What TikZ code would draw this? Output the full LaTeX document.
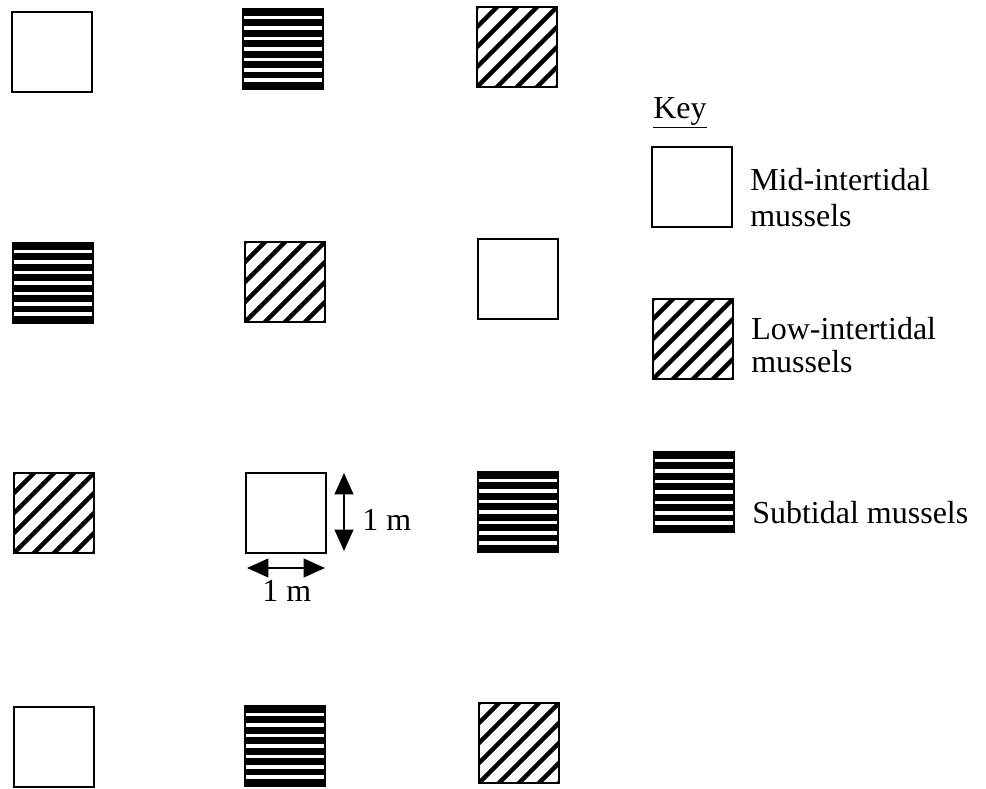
\documentclass[tikz,border=0pt]{standalone}
\usepackage{fontspec}
\setmainfont{Liberation Serif}
\usetikzlibrary{arrows.meta}

\tikzset{
  plot/.style={draw, line width=1.8pt, minimum size=60pt, inner sep=0pt, outer sep=0pt},
  mid/.style={plot},
  sub/.style={plot, path picture={
      \foreach \k in {0,...,7}
        \fill ([yshift=-\k*7.85pt]path picture bounding box.north west) rectangle ++(62pt,-5pt);}},
  low/.style={plot, path picture={
      \foreach \k in {-4,...,4}
        \draw[line width=3.3pt] ([shift={(\k*15pt-40pt,-40pt)}]path picture bounding box.center) -- ++(80pt,80pt);}},
  dimarrow/.style={{Triangle[length=16pt,width=14pt]}-{Triangle[length=16pt,width=14pt]}, line width=1.5pt},
  keytext/.style={anchor=base west, inner sep=0pt},
}

\begin{document}
\begin{tikzpicture}[x=0.75pt, y=-0.75pt, font=\fontsize{24}{28}\selectfont]
  \useasboundingbox (0,0) rectangle (986,789);
  % the twelve plots
  \foreach \x/\y/\t/\n in {52/52/mid/a1, 283/49/sub/a2, 517/47/low/a3,
                          53/283/sub/b1, 285/282/low/b2, 518/279/mid/b3,
                          54/513/low/c1, 286/513/mid/c2, 518/512/sub/c3,
                          54/747/mid/d1, 285/746/sub/d2, 519/743/low/d3}
  {
    \node[\t] (\n) at (\x,\y) {};
  }
  % key
  \node[keytext] (key) at (653,118) {\underline{Key}};
  \node[mid] (kmid) at (692,187) {};
  \node[low] (klow) at (693,339) {};
  \node[sub] (ksub) at (694,492) {};
  \node[keytext] (tmid) at (750,190) {Mid-intertidal};
  \node[keytext] (tmidb) at (750,226) {mussels};
  \node[keytext] (tlow) at (751,339) {Low-intertidal};
  \node[keytext] (tlowb) at (751,372) {mussels};
  \node[keytext] (tsub) at (752,523) {Subtidal mussels};
  % scale
  \coordinate (vtop) at (344,473);
  \coordinate (vbot) at (344,551);
  \draw[dimarrow] (vtop) -- (vbot);
  \node[keytext] (vlab) at (362,530) {1 m};
  \coordinate (hleft) at (247,568);
  \coordinate (hright) at (325,568);
  \draw[dimarrow] (hleft) -- (hright);
  \node[keytext] (hlab) at (262,601) {1 m};
\end{tikzpicture}
\end{document}
